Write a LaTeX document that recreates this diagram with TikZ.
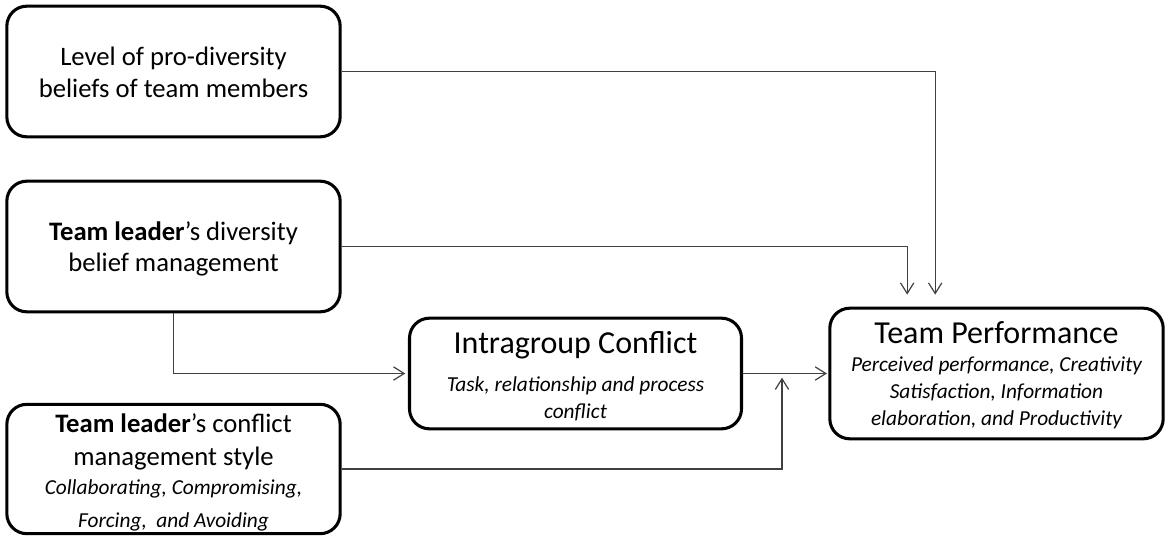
\documentclass[tikz,border=0pt]{standalone}
\usepackage{fontspec}
\setmainfont{Carlito}
\usetikzlibrary{arrows.meta}
\begin{document}
\begin{tikzpicture}[x=0.75pt,y=-0.75pt,
  box/.style={draw=black, line width=2.3pt, rounded corners=15pt,
    minimum width=250pt, minimum height=98pt, inner sep=0pt},
  conn/.style={draw=black!75, line width=0.9pt, -{Straight Barb[length=8pt,width=10pt]}},
  main/.style={anchor=base, inner sep=0pt, font=\fontsize{20}{24}\selectfont},
  big/.style={anchor=base, inner sep=0pt, font=\fontsize{24}{28}\selectfont},
  sub/.style={anchor=base, inner sep=0pt, font=\fontsize{16}{20}\selectfont\itshape},
]
\useasboundingbox (0,0) rectangle (1166,539);

% boxes
\node[box] (b1) at (173.5,71.5) {};
\node[box] (b2) at (173.5,246.5) {};
\node[box, minimum height=97pt] (b3) at (173.5,469) {};
\node[box, minimum width=249pt, minimum height=83pt] (ic) at (575.5,373.5) {};
\node[box] (tp) at (996.5,373.5) {};

% texts
\node[main] (b1a) at (173.5,65) {Level of pro-diversity};
\node[main] (b1b) at (173.5,97) {beliefs of team members};

\node[main] (b2a) at (173.5,240) {\textbf{Team leader}’s diversity};
\node[main] (b2b) at (173.5,271) {belief management};

\node[main] (b3a) at (173.5,432) {\textbf{Team leader}’s conflict};
\node[main] (b3b) at (173.5,465) {management style};
\node[sub]  (b3c) at (173.5,494) {Collaborating, Compromising,};
\node[sub]  (b3d) at (173.5,527) {Forcing,~ and Avoiding};

\node[big] (ica) at (575.5,353) {Intragroup Conflict};
\node[sub] (icb) at (575.5,391) {Task, relationship and process};
\node[sub] (icc) at (575.5,418) {conflict};

\node[big] (tpa) at (996.5,343) {Team Performance};
\node[sub] (tpb) at (996.5,371) {Perceived performance, Creativity};
\node[sub] (tpc) at (996.5,398) {Satisfaction, Information};
\node[sub] (tpd) at (996.5,425) {elaboration, and Productivity};

% connectors
\coordinate (m) at (782,375);
\draw[conn, shorten >=9pt] (b1.east) -| ([xshift=-46pt]tp.north);
\draw[conn, shorten >=9pt] (b2.east) -| ([xshift=-67pt]tp.north);
\draw[conn, shorten >=2pt] (b2.south) |- (ic.west);
\draw[conn, shorten >=1pt] (ic.east) -- (tp.west);
\draw[conn, shorten >=2pt] (b3.east) -| (m);
\end{tikzpicture}
\end{document}
